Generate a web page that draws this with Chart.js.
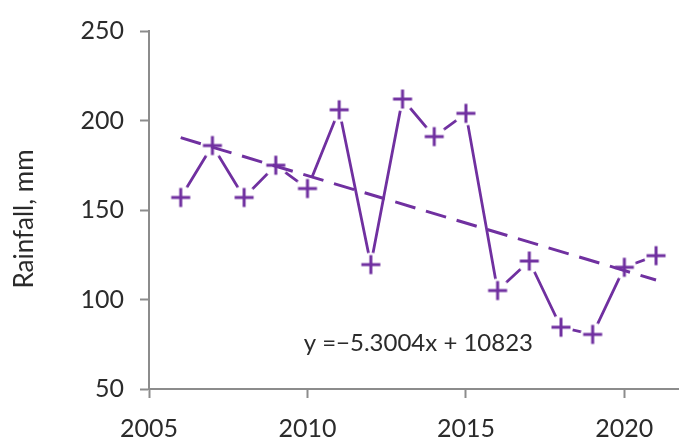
<!DOCTYPE html>
<html>
<head>
<meta charset="utf-8">
<script src="https://cdn.jsdelivr.net/npm/chart.js@4.4.1/dist/chart.umd.min.js"></script>
<style>
  html, body { margin: 0; padding: 0; background: #fff; }
  #chart { display: block; }
</style>
</head>
<body>
<canvas id="chart" width="691" height="441"></canvas>
<script>
// rainfall per year
const years    = [2006, 2007, 2008, 2009, 2010, 2011, 2012, 2013, 2014, 2015, 2016, 2017, 2018, 2019, 2020, 2021];
const rainfall = [157, 186, 157, 175, 162, 206, 119.5, 212, 191, 204, 105, 121.5, 84.5, 80.5, 118, 124.5];

// linear trend y = -5.3004x + 10823, end points
const trendYears  = [2006, 2021];
const trendValues = [190.4, 110.9];
const trendLabel  = 'y =\u22125.3004x + 10823';
const trendLabelAt = { x: 2013.5, y: 75.5 };

const xTicks = [2005, 2010, 2015, 2020];
const yTitle = 'Rainfall, mm';

const purple = '#7030a0';
const axisGray = '#8c8c8c';
const textColor = '#2b2b2b';
const fontFamily = 'Lato, "Open Sans", sans-serif';

// plus marker sitting on a white disc, so line ends stop short of it
function plusMarker() {
    const c = document.createElement('canvas');
    c.width = 30; c.height = 30;
    const g = c.getContext('2d');
    g.fillStyle = '#fff';
    g.beginPath();
    g.arc(15, 15, 12, 0, Math.PI * 2);
    g.fill();
    g.strokeStyle = purple;
    g.lineWidth = 3;
    g.beginPath();
    g.moveTo(5.5, 15); g.lineTo(24.5, 15);
    g.moveTo(15, 5.5); g.lineTo(15, 24.5);
    g.stroke();
    return c;
}

const textPlugin = {
    id: 'extraText',
    afterDraw(chart) {
        const ctx = chart.ctx;
        const xs = chart.scales.x, ys = chart.scales.y;
        ctx.save();
        ctx.fillStyle = textColor;
        ctx.font = '24px ' + fontFamily;
        ctx.textAlign = 'center';
        ctx.textBaseline = 'middle';
        ctx.fillText(trendLabel, xs.getPixelForValue(trendLabelAt.x), ys.getPixelForValue(trendLabelAt.y));

        ctx.translate(25, 219);
        ctx.rotate(-Math.PI / 2);
        ctx.font = '26px ' + fontFamily;
        ctx.fillText(yTitle, 0, 0);
        ctx.restore();
    }
};

const marker = plusMarker();

new Chart(document.getElementById('chart'), {
    type: 'line',
    plugins: [textPlugin],
    data: {
        datasets: [
            {
                data: trendYears.map((x, i) => ({ x, y: trendValues[i] })),
                borderColor: purple,
                borderWidth: 3,
                borderDash: [21, 11],
                pointRadius: 0,
                fill: false
            },
            {
                data: years.map((x, i) => ({ x, y: rainfall[i] })),
                borderColor: purple,
                borderWidth: 2.8,
                pointStyle: marker,
                pointRadius: 10,
                fill: false,
                tension: 0
            }
        ]
    },
    options: {
        responsive: false,
        animation: false,
        layout: { padding: { top: 22, right: 0, bottom: 0, left: 0 } },
        plugins: {
            legend: { display: false },
            tooltip: { enabled: false }
        },
        scales: {
            x: {
                type: 'linear',
                min: 2005,
                max: 2021.7,
                afterBuildTicks: s => { s.ticks = xTicks.map(v => ({ value: v })); },
                afterFit: s => { s.height = 52; },
                border: { color: axisGray, width: 2 },
                grid: { drawOnChartArea: false, tickLength: 9, tickColor: axisGray, tickWidth: 2 },
                ticks: {
                    color: textColor,
                    font: { family: fontFamily, size: 25 },
                    padding: 16,
                    maxRotation: 0,
                    callback: v => String(v)
                }
            },
            y: {
                min: 50,
                max: 250,
                afterFit: s => { s.width = 149; },
                border: { color: axisGray, width: 2 },
                grid: { drawOnChartArea: false, tickLength: 9, tickColor: axisGray, tickWidth: 2 },
                ticks: {
                    stepSize: 50,
                    color: textColor,
                    font: { family: fontFamily, size: 25 },
                    padding: 16
                }
            }
        }
    }
});
</script>
</body>
</html>
